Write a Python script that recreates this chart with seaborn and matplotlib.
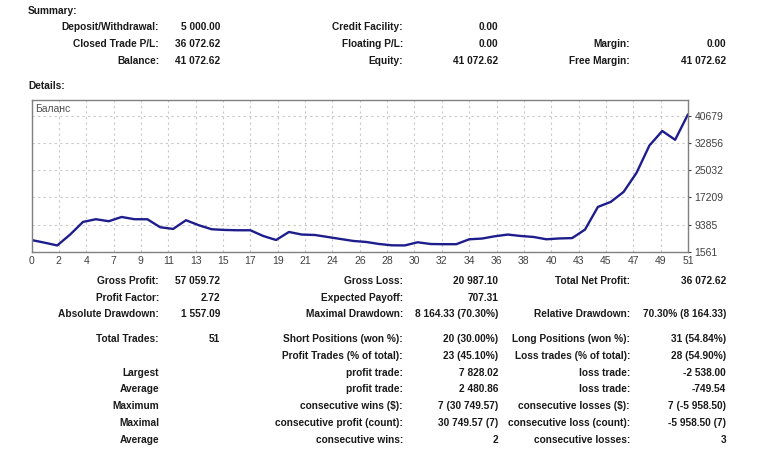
import numpy as np
import pandas as pd
import matplotlib
matplotlib.use("Agg")
import matplotlib.pyplot as plt
import seaborn as sns

W, H = 758, 449

# balance after each closed trade (trade 0 = initial deposit)
trades = list(range(52))
balance = [5000, 4250, 3443, 6560, 10190, 10970, 10390, 11614, 10970, 10960,
           8670, 8180, 10680, 9240, 8090, 7890, 7800, 7800, 6160, 5010,
           7310, 6570, 6450, 5880, 5300, 4730, 4440, 3860, 3480, 3450,
           4350, 3860, 3800, 3800, 5210, 5420, 6080, 6570, 6160, 5880,
           5210, 5450, 5550, 8000, 14500, 15940, 18820, 24280, 32110, 36300,
           33762, 41072.62]

y_ticks = [1561, 9385, 17209, 25032, 32856, 40679]
x_tick_labels = [0, 2, 4, 7, 9, 11, 13, 15, 17, 19, 21, 24, 26, 28, 30,
                 32, 34, 36, 38, 40, 43, 45, 47, 49, 51]

summary_rows = [
    ["Deposit/Withdrawal:", "5 000.00", "Credit Facility:", "0.00", "", ""],
    ["Closed Trade P/L:", "36 072.62", "Floating P/L:", "0.00", "Margin:", "0.00"],
    ["Balance:", "41 072.62", "Equity:", "41 072.62", "Free Margin:", "41 072.62"],
]
summary_y = [27, 44, 61]

detail_rows = [
    ["Gross Profit:", "57 059.72", "Gross Loss:", "20 987.10", "Total Net Profit:", "36 072.62"],
    ["Profit Factor:", "2.72", "Expected Payoff:", "707.31", "", ""],
    ["Absolute Drawdown:", "1 557.09", "Maximal Drawdown:", "8 164.33 (70.30%)",
     "Relative Drawdown:", "70.30% (8 164.33)"],
    ["Total Trades:", "51", "Short Positions (won %):", "20 (30.00%)",
     "Long Positions (won %):", "31 (54.84%)"],
    ["", "", "Profit Trades (% of total):", "23 (45.10%)",
     "Loss trades (% of total):", "28 (54.90%)"],
    ["Largest", "", "profit trade:", "7 828.02", "loss trade:", "-2 538.00"],
    ["Average", "", "profit trade:", "2 480.86", "loss trade:", "-749.54"],
    ["Maximum", "", "consecutive wins ($):", "7 (30 749.57)",
     "consecutive losses ($):", "7 (-5 958.50)"],
    ["Maximal", "", "consecutive profit (count):", "30 749.57 (7)",
     "consecutive loss (count):", "-5 958.50 (7)"],
    ["Average", "", "consecutive wins:", "2", "consecutive losses:", "3"],
]
detail_y = [281, 298, 314, 339, 356, 373, 389, 406, 423, 440]
col_right = [159, 220, 403, 498, 630, 726]

sns.set_style("white")
plt.rcParams["font.family"] = ["Liberation Sans", "DejaVu Sans"]

fig = plt.figure(figsize=(W / 100, H / 100), dpi=100)


def fx(px):
    return px / W


def fy(py):
    return 1 - py / H


txt_kw = dict(fontsize=7.3, fontweight="bold", color="#1a1a1a", va="center")

fig.text(fx(28), fy(11), "Summary:", ha="left", **txt_kw)
fig.text(fx(28), fy(86), "Details:", ha="left", **txt_kw)

for row, y in zip(summary_rows + detail_rows, summary_y + detail_y):
    for s, xr in zip(row, col_right):
        if s:
            fig.text(fx(xr), fy(y), s, ha="right", **txt_kw)

# balance chart
ax = fig.add_axes([fx(31.5), fy(252), fx(688) - fx(31.5), (252 - 100) / H])
df = pd.DataFrame({"trade": trades, "balance": balance})
sns.lineplot(data=df, x="trade", y="balance", ax=ax, color="#1d1d8c", lw=1.7)
ax.set_xlim(0, 51)
ax.set_ylim(1561, 45190)
ax.set_xticks(np.linspace(0, 51, len(x_tick_labels)))
ax.set_xticklabels(x_tick_labels)
ax.set_yticks(y_ticks)
ax.yaxis.tick_right()
ax.set_xlabel("")
ax.set_ylabel("")
ax.grid(True, ls=(0, (2, 3)), color="#c8c8c8", lw=0.8)
for s in ax.spines.values():
    s.set_visible(True)
    s.set_color("#808080")
    s.set_linewidth(1)
ax.tick_params(axis="both", labelsize=7.5, colors="#404040", length=2.5, width=0.8, pad=2)
ax.tick_params(axis="x", length=0, pad=3)
ax.text(0.006, 0.94, "Баланс", transform=ax.transAxes, fontsize=7.5,
        color="#505050", ha="left", va="center")

fig.savefig("out.png", dpi=100)
